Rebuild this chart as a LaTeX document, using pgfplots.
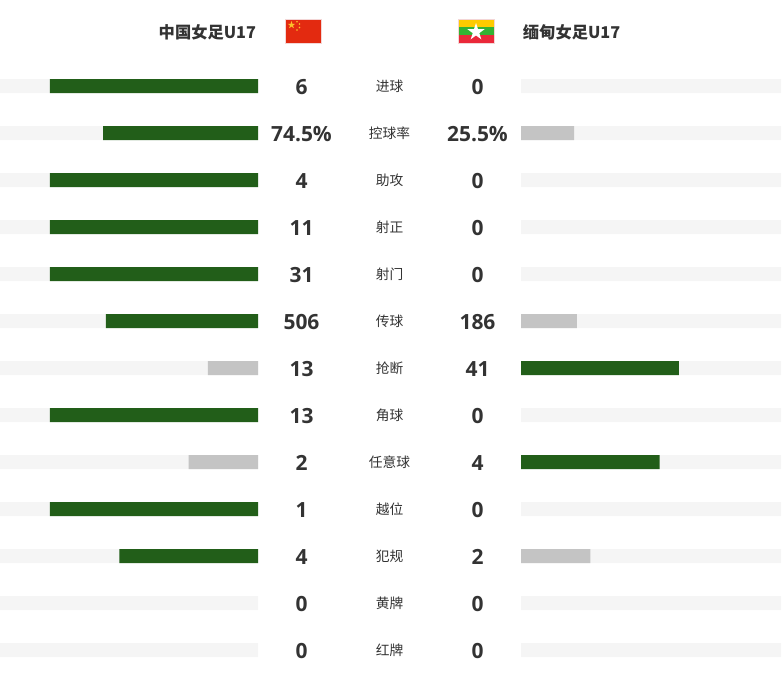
\documentclass[border=0pt]{standalone}
\usepackage{fontspec}
\usepackage{pgfplots}
\usepackage{pgfplotstable}
\pgfplotsset{compat=1.18}
\usetikzlibrary{shapes.geometric}
\setmainfont{Open Sans}
\newfontfamily\cjk{Noto Sans CJK SC}
\definecolor{win}{HTML}{225E19}
\definecolor{lose}{HTML}{C4C4C4}
\definecolor{track}{HTML}{F5F5F5}
\definecolor{txt}{HTML}{333333}
\definecolor{cnred}{HTML}{E32A10}
\definecolor{cnyel}{HTML}{FBC02A}
\definecolor{myy}{HTML}{FECB00}
\definecolor{myg}{HTML}{34B233}
\definecolor{myr}{HTML}{EA2839}
\definecolor{flagedge}{HTML}{F3D6D6}
\pgfplotstableread{
y   lnum   rnum   cat     lwin  llose rwin  rlose
86  6      0      进球     100   nan   nan   nan
133 74.5\% 25.5\% 控球率   74.5  nan   nan   25.5
180 4      0      助攻     100   nan   nan   nan
227 11     0      射正     100   nan   nan   nan
274 31     0      射门     100   nan   nan   nan
321 506    186    传球     73.1  nan   nan   26.9
368 13     41     抢断     nan   24.1  75.9  nan
415 13     0      角球     100   nan   nan   nan
462 2      4      任意球   nan   33.3  66.7  nan
509 1      0      越位     100   nan   nan   nan
556 4      2      犯规     66.7  nan   nan   33.3
603 0      0      黄牌     nan   nan   nan   nan
650 0      0      红牌     nan   nan   nan   nan
}\stats
\pgfplotsset{
  base/.style={scale only axis, axis lines=none, height=515.25pt, ymin=0, ymax=687, y dir=reverse, clip=false},
  barbase/.style={base, xbar, bar width=10.5pt, bar shift=0pt, anchor=south west},
  lab/.style={only marks, mark=none, nodes near coords, point meta=explicit symbolic,
    every node near coord/.append style={anchor=center, inner sep=0pt, text=txt, #1}},
}
\newcommand{\numfont}{\fontsize{15.7}{18}\selectfont\bfseries}
\newcommand{\catfont}{\fontsize{10.3}{12}\selectfont\cjk}
\begin{document}
\begin{tikzpicture}[x=1pt,y=1pt]
\path (0,0) rectangle (588,515.25);
% left bars
\begin{axis}[barbase, at={(0pt,0pt)}, width=193.5pt, xmin=0, xmax=124.04, x dir=reverse]
\addplot[draw=none, fill=track] table[x expr=124.04, y=y] {\stats};
\addplot[draw=none, fill=win] table[x=lwin, y=y] {\stats};
\addplot[draw=none, fill=lose] table[x=llose, y=y] {\stats};
\end{axis}
% right bars
\begin{axis}[barbase, at={(390.75pt,0pt)}, width=195pt, xmin=0, xmax=125]
\addplot[draw=none, fill=track] table[x expr=125, y=y] {\stats};
\addplot[draw=none, fill=win] table[x=rwin, y=y] {\stats};
\addplot[draw=none, fill=lose] table[x=rlose, y=y] {\stats};
\end{axis}
% text and flags
\begin{axis}[base, at={(0pt,0pt)}, anchor=south west, width=588pt, xmin=0, xmax=784]
\addplot[lab={font=\numfont}] table[x expr=301.5, y expr=\thisrow{y}+0.7, meta=lnum] {\stats};
\addplot[lab={font=\numfont}] table[x expr=477.5, y expr=\thisrow{y}+0.7, meta=rnum] {\stats};
\addplot[lab={font=\catfont}] table[x expr=389.5, y expr=\thisrow{y}+0.7, meta=cat] {\stats};
% titles
\node[anchor=east, inner sep=0pt, text=txt, font=\fontsize{12.2}{14}\selectfont\cjk\bfseries] at (axis cs:256.3,32) {中国女足U17};
\node[anchor=west, inner sep=0pt, text=txt, font=\fontsize{12.2}{14}\selectfont\cjk\bfseries] at (axis cs:522.7,32) {缅甸女足U17};
% China flag
\fill[cnred] (axis cs:285,19) rectangle (axis cs:321,43);
\draw[flagedge, line width=0.5pt] (axis cs:285,19) rectangle (axis cs:321,43);
\node[star, star points=5, star point ratio=2.6, fill=cnyel, inner sep=0pt, minimum size=6pt] at (axis cs:291.5,25) {};
\node[circle, fill=cnyel, inner sep=0pt, minimum size=1.4pt] at (axis cs:297,21.8) {};
\node[circle, fill=cnyel, inner sep=0pt, minimum size=1.4pt] at (axis cs:299.5,24) {};
\node[circle, fill=cnyel, inner sep=0pt, minimum size=1.4pt] at (axis cs:299.5,27.5) {};
\node[circle, fill=cnyel, inner sep=0pt, minimum size=1.4pt] at (axis cs:297,30) {};
% Myanmar flag
\fill[myy] (axis cs:458.5,19) rectangle (axis cs:494,27);
\fill[myg] (axis cs:458.5,27) rectangle (axis cs:494,35);
\fill[myr] (axis cs:458.5,35) rectangle (axis cs:494,43);
\draw[flagedge, line width=0.5pt] (axis cs:458.5,19) rectangle (axis cs:494,43);
\node[star, star points=5, star point ratio=2.6, fill=white, inner sep=0pt, minimum size=13.5pt] at (axis cs:476,32) {};
\end{axis}
\end{tikzpicture}
\end{document}
